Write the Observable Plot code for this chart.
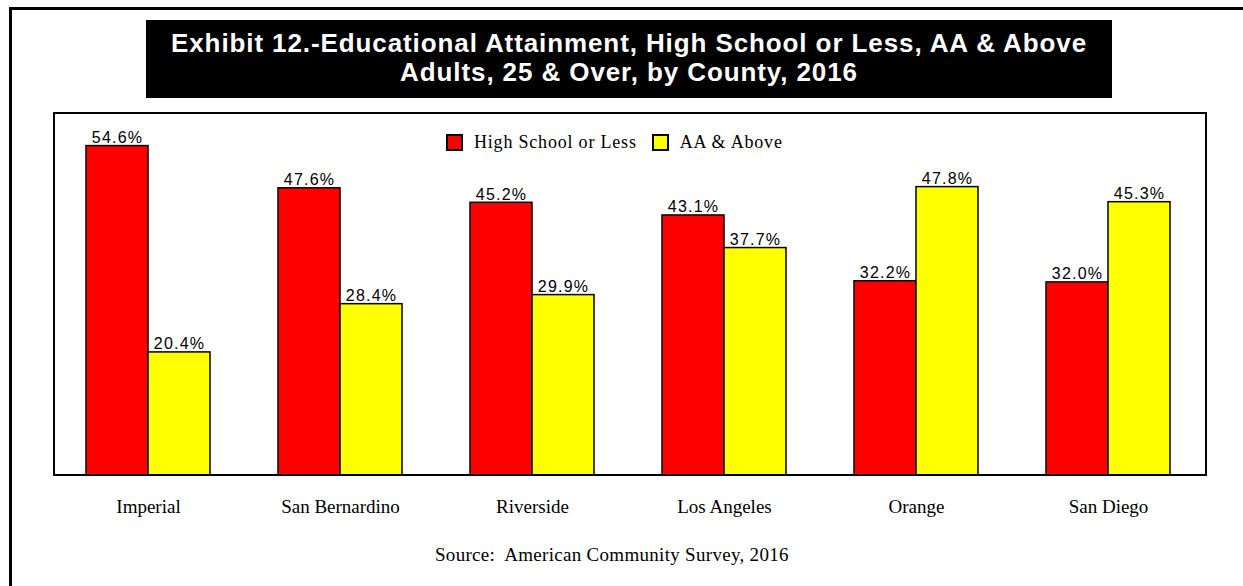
<!DOCTYPE html>
<html><head><meta charset="utf-8">
<script src="https://cdn.jsdelivr.net/npm/d3@7"></script>
<script src="https://cdn.jsdelivr.net/npm/@observablehq/plot@0.6"></script>
<style>
body{margin:0;background:#fff;}
#wrap{position:relative;width:1243px;height:586px;overflow:hidden;background:#fff;}
#chart{position:absolute;left:0;top:0;}
#border{position:absolute;left:9px;top:7px;right:-20px;bottom:-20px;border-left:3px solid #000;border-top:3px solid #000;pointer-events:none;}
#title{position:absolute;left:146px;top:20px;width:966px;height:78px;background:#000;color:#fff;
 font-family:"Liberation Sans",Arial,sans-serif;font-weight:bold;font-size:26px;letter-spacing:0.9px;line-height:29px;text-align:center;padding-top:9px;box-sizing:border-box;white-space:nowrap;}
#legend{position:absolute;left:446px;top:132px;font-family:"Liberation Serif","Times New Roman",serif;font-size:18px;letter-spacing:0.8px;display:flex;align-items:center;color:#000;}
#legend .sw{width:17px;height:17px;border:2px solid #000;box-sizing:border-box;margin-right:11px;}
#legend .it{display:flex;align-items:center;margin-right:15px;}
#source{position:absolute;left:435px;top:544px;font-family:"Liberation Serif","Times New Roman",serif;font-size:19px;letter-spacing:0.3px;color:#000;white-space:pre;}
#chart g[aria-label="text"] text{letter-spacing:1.2px;}
</style>
</head><body>
<div id="wrap">
 <div id="chart"></div>
 <div id="border"></div>
 <div id="title">Exhibit 12.-Educational Attainment, High School or Less, AA &amp; Above<br>Adults, 25 &amp; Over, by County, 2016</div>
 <div id="legend"></div>
 <div id="source">Source:  American Community Survey, 2016</div>
</div>
<script>
const counties = ["Imperial","San Bernardino","Riverside","Los Angeles","Orange","San Diego"];
const series = ["High School or Less","AA & Above"];
const hsOrLess = [54.6,47.6,45.2,43.1,32.2,32.0];
const aaAbove = [20.4,28.4,29.9,37.7,47.8,45.3];
const colors = ["#ff0000","#ffff00"];

const data = counties.flatMap((c,i)=>[
  {county:c, series:series[0], value:hsOrLess[i]},
  {county:c, series:series[1], value:aaAbove[i]}
]);

const W=1243,H=586,mL=52,mR=39,mT=113,mB=111;
const frame = {x0:54, x1:1206};
const plot = Plot.plot({
  width:W, height:H,
  marginLeft:mL, marginRight:mR, marginTop:mT, marginBottom:mB,
  style:{background:"#fff"},
  fx:{domain:counties, paddingInner:0.354, paddingOuter:0.177, label:null},
  x:{domain:series, padding:0, axis:null},
  y:{domain:[0,60], axis:null},
  color:{domain:series, range:colors},
  marks:[
    Plot.barY(data,{fx:"county", x:"series", y:"value", fill:"series", stroke:"#000", strokeWidth:1.5}),
    Plot.text(data,{fx:"county", x:"series", y:"value", text:d=>d.value.toFixed(1)+"%", lineAnchor:"bottom", dy:-3,
      fontSize:16, fontFamily:"Liberation Sans, Arial, sans-serif", fill:"#000"}),
    Plot.axisFx({anchor:"bottom", tickSize:0, tickPadding:24, fontSize:19, fontFamily:"Liberation Serif, Times New Roman, serif", label:null, fill:"#000"})
  ]
});
d3.select(plot).append("rect")
  .attr("x",frame.x0).attr("y",mT).attr("width",frame.x1-frame.x0).attr("height",H-mT-mB)
  .attr("fill","none").attr("stroke","#000").attr("stroke-width",2);
document.getElementById("chart").appendChild(plot);

const leg = d3.select("#legend");
series.forEach((s,i)=>{
  const it = leg.append("div").attr("class","it");
  it.append("div").attr("class","sw").style("background",colors[i]);
  it.append("span").text(s);
});
</script>
</body></html>
